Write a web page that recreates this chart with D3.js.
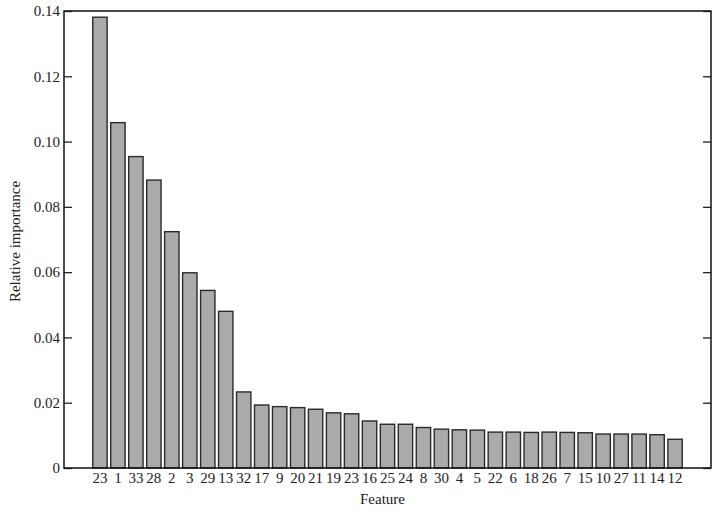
<!DOCTYPE html>
<html><head><meta charset="utf-8">
<script src="https://cdn.jsdelivr.net/npm/d3@7"></script>
<style>body{margin:0;background:#fff}svg{display:block}text{font-family:"Liberation Serif","DejaVu Serif",serif;fill:#222}</style>
</head><body><svg id="c" width="718" height="511"></svg>
<script>
const features = ["23","1","33","28","2","3","29","13","32","17","9","20","21","19","23","16","25","24","8","30","4","5","22","6","18","26","7","15","10","27","11","14","12"];
const importance = [0.1381,0.1058,0.0954,0.0882,0.0724,0.0598,0.0544,0.0480,0.0233,0.0193,0.0188,0.0185,0.0180,0.0169,0.0166,0.0144,0.0134,0.0134,0.0124,0.0119,0.0117,0.0116,0.0110,0.0110,0.0109,0.0110,0.0109,0.0108,0.0104,0.0104,0.0104,0.0102,0.0088];
const yTicks = [0,0.02,0.04,0.06,0.08,0.10,0.12,0.14];
const yTickLabels = ["0","0.02","0.04","0.06","0.08","0.10","0.12","0.14"];

const svg = d3.select("#c");
const m = {l:64, r:711, t:11, b:468};
const x = d3.scaleLinear().domain([-2, features.length + 1]).range([m.l, m.r]);
const y = d3.scaleLinear().domain([0, 0.14]).range([m.b, m.t]);
const bw = 0.8;
const fs = 15;

svg.append("g").selectAll("rect").data(importance).join("rect")
  .attr("x", (d,i) => x(i - bw/2))
  .attr("width", x(bw) - x(0))
  .attr("y", d => y(d))
  .attr("height", d => y(0) - y(d))
  .attr("fill", "#aaaaaa").attr("stroke", "#2a2a2a").attr("stroke-width", 1.4);

const yl = svg.append("g").attr("transform", `translate(${m.l},0)`)
  .call(d3.axisRight(y).tickValues(yTicks).tickSize(8).tickFormat(""));
yl.select(".domain").remove();
yl.selectAll("line").attr("stroke", "#222").attr("stroke-width", 1.3);
const yr = svg.append("g").attr("transform", `translate(${m.r},0)`)
  .call(d3.axisLeft(y).tickValues(yTicks).tickSize(8).tickFormat(""));
yr.select(".domain").remove();
yr.selectAll("line").attr("stroke", "#222").attr("stroke-width", 1.3);

svg.append("g").selectAll("text").data(yTicks).join("text")
  .attr("x", m.l - 4).attr("y", d => y(d)).attr("dy", "0.35em")
  .attr("text-anchor", "end").attr("font-size", fs)
  .text((d,i) => yTickLabels[i]);

svg.append("g").selectAll("text").data(features).join("text")
  .attr("x", (d,i) => x(i)).attr("y", 483)
  .attr("text-anchor", "middle").attr("font-size", fs)
  .text(d => d);

svg.append("rect").attr("x", m.l).attr("y", m.t).attr("width", m.r - m.l).attr("height", m.b - m.t)
  .attr("fill", "none").attr("stroke", "#111").attr("stroke-width", 1.5);

svg.append("text").attr("x", (m.l + m.r)/2 - 5).attr("y", 504).attr("text-anchor", "middle")
  .attr("font-size", fs).text("Feature");
svg.append("text").attr("transform", `translate(20,${(m.t+m.b)/2 + 2}) rotate(-90)`)
  .attr("text-anchor", "middle").attr("font-size", fs).text("Relative importance");
</script></body></html>
